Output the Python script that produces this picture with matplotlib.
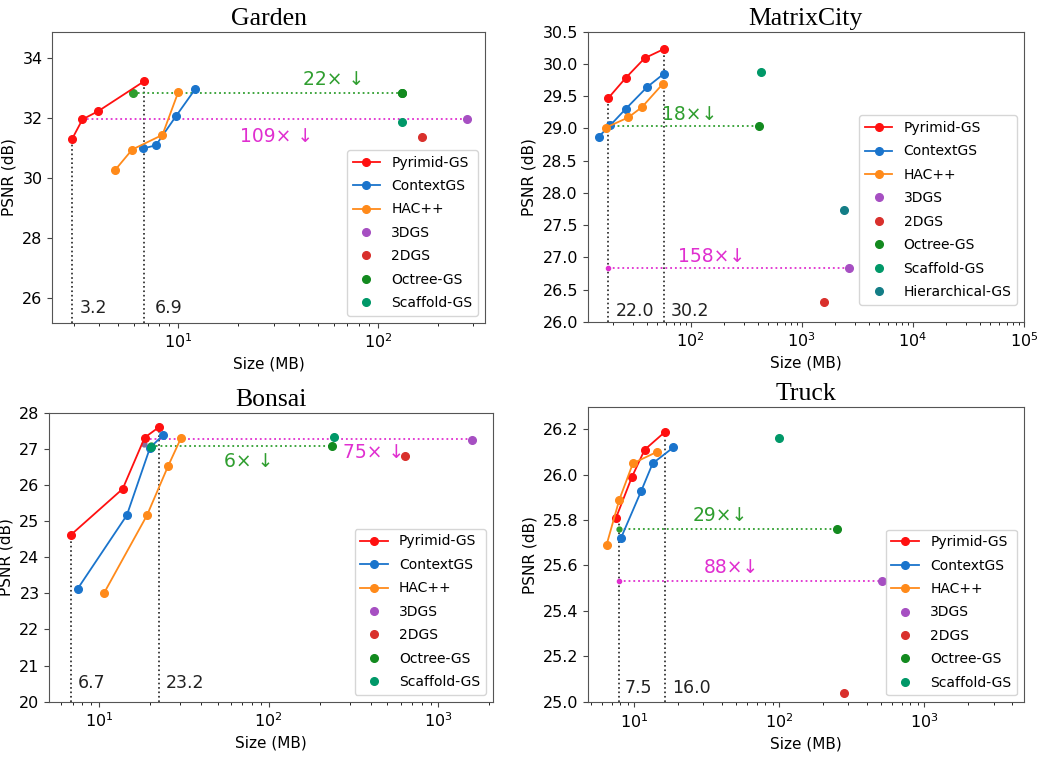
import numpy as np
import matplotlib.pyplot as plt

# colours per method
c_pyr = "#ff1010"
c_ctx = "#1a74cc"
c_hac = "#ff8a1a"
c_3dgs = "#a64fc2"
c_2dgs = "#d9302c"
c_oct = "#138a1f"
c_sca = "#009868"
c_hier = "#137d86"
c_green = "#2f9e2f"
c_mag = "#e02fd0"

# ---- Garden ----
garden_pyr_x = [2.92, 3.30, 3.95, 6.75]
garden_pyr_y = [31.29, 31.96, 32.23, 33.24]
garden_ctx_x = [6.67, 7.70, 9.70, 12.1]
garden_ctx_y = [30.99, 31.09, 32.06, 32.96]
garden_hac_x = [4.83, 5.86, 8.31, 9.96]
garden_hac_y = [30.28, 30.95, 31.44, 32.86]
garden_3dgs = (281.6, 31.96)
garden_2dgs = (166.0, 31.36)
garden_oct = (131.5, 32.84)
garden_sca = (131.5, 31.88)

# ---- MatrixCity ----
city_pyr_x = [18.1, 25.9, 38.5, 57.2]
city_pyr_y = [29.47, 29.78, 30.09, 30.23]
city_ctx_x = [14.8, 18.9, 25.9, 40.4, 57.5]
city_ctx_y = [28.87, 29.05, 29.30, 29.64, 29.85]
city_hac_x = [17.1, 27.4, 36.4, 56.0]
city_hac_y = [29.01, 29.17, 29.33, 29.69]
city_3dgs = (2650, 26.84)
city_2dgs = (1600, 26.30)
city_oct = (416, 29.04)
city_sca = (425, 29.87)
city_hier = (2420, 27.73)

# ---- Bonsai ----
bonsai_pyr_x = [6.81, 13.8, 18.6, 22.6]
bonsai_pyr_y = [24.61, 25.89, 27.31, 27.60]
bonsai_ctx_x = [7.48, 14.6, 20.0, 23.9]
bonsai_ctx_y = [23.12, 25.16, 27.03, 27.38]
bonsai_hac_x = [10.7, 19.2, 25.5, 30.4]
bonsai_hac_y = [23.00, 25.16, 26.51, 27.29]
bonsai_3dgs = (1578, 27.24)
bonsai_2dgs = (637, 26.79)
bonsai_oct = (237, 27.08)
bonsai_sca = (241.5, 27.33)

# ---- Truck ----
truck_pyr_x = [7.49, 9.64, 11.8, 16.4]
truck_pyr_y = [25.81, 25.99, 26.11, 26.19]
truck_ctx_x = [8.09, 11.2, 13.4, 18.6]
truck_ctx_y = [25.72, 25.93, 26.05, 26.12]
truck_hac_x = [6.44, 7.89, 9.79, 14.3]
truck_hac_y = [25.69, 25.89, 26.05, 26.10]
truck_3dgs = (513, 25.53)
truck_2dgs = (279, 25.04)
truck_oct = (251, 25.76)
truck_sca = (98.9, 26.16)

fig = plt.figure(figsize=(10.49, 7.57), dpi=100)


def panel(rect, title, pyr, ctx, hac, singles, xlim, ylim, yticks):
    ax = fig.add_axes(rect)
    ax.set_xscale("log")
    ax.plot(*pyr, "-o", color=c_pyr, ms=5.5, lw=1.3, label="Pyrimid-GS", zorder=4)
    ax.plot(*ctx, "-o", color=c_ctx, ms=5.5, lw=1.3, label="ContextGS", zorder=4)
    ax.plot(*hac, "-o", color=c_hac, ms=5.5, lw=1.3, label="HAC++", zorder=4)
    for name, pt, col in singles:
        ax.plot([pt[0]], [pt[1]], "o", color=col, ms=5.5, label=name, zorder=4)
    ax.set_xlim(*xlim)
    ax.set_ylim(*ylim)
    ax.set_yticks(yticks)
    ax.set_title(title, family="Liberation Serif", fontsize=18.5, pad=5)
    ax.set_xlabel("Size (MB)", fontsize=11)
    ax.set_ylabel("PSNR (dB)", fontsize=11)
    ax.tick_params(labelsize=11.5, color="#444444")
    for s in ax.spines.values():
        s.set_color("#555555")
    return ax


def hline(ax, x0, x1, y, col, start_ms):
    ax.plot([x0, x1], [y, y], ":", color=col, lw=1.3, zorder=3)
    if start_ms:
        ax.plot([x0], [y], "o", color=col, ms=start_ms, zorder=3)


def vline(ax, x, ytop, ybot, label, tx, ty):
    ax.plot([x, x], [ybot, ytop], ":", color="#222222", lw=1.2, zorder=2)
    ax.text(tx, ty, label, fontsize=12.5, ha="left", va="center", color="#222222")


def legend(ax, **kw):
    ax.legend(loc="lower right", fontsize=10, labelspacing=0.68, **kw)


# Garden
ax = panel([0.0499, 0.5737, 0.4125, 0.3844], "Garden",
           (garden_pyr_x, garden_pyr_y), (garden_ctx_x, garden_ctx_y),
           (garden_hac_x, garden_hac_y),
           [("3DGS", garden_3dgs, c_3dgs), ("2DGS", garden_2dgs, c_2dgs),
            ("Octree-GS", garden_oct, c_oct), ("Scaffold-GS", garden_sca, c_sca)],
           (2.33, 345), (25.16, 34.89), [26, 28, 30, 32, 34])
hline(ax, 5.94, garden_oct[0], garden_oct[1], c_green, 5.5)
hline(ax, garden_pyr_x[1], garden_3dgs[0], garden_3dgs[1], c_mag, 0)
ax.plot([garden_oct[0]], [garden_oct[1]], "o", color=c_oct, ms=5.5, zorder=5)
ax.text(60, 33.3, "22× ↓", color=c_green, fontsize=13.5, ha="center", va="center")
ax.text(31, 31.4, "109× ↓", color=c_mag, fontsize=13.5, ha="center", va="center")
vline(ax, garden_pyr_x[0], garden_pyr_y[0], 25.16, "3.2", 3.18, 25.64)
vline(ax, garden_pyr_x[-1], garden_pyr_y[-1], 25.16, "6.9", 7.58, 25.64)
legend(ax)

# MatrixCity
ax = panel([0.5602, 0.575, 0.4159, 0.3831], "MatrixCity",
           (city_pyr_x, city_pyr_y), (city_ctx_x, city_ctx_y),
           (city_hac_x, city_hac_y),
           [("3DGS", city_3dgs, c_3dgs), ("2DGS", city_2dgs, c_2dgs),
            ("Octree-GS", city_oct, c_oct), ("Scaffold-GS", city_sca, c_sca),
            ("Hierarchical-GS", city_hier, c_hier)],
           (11.8, 1e5), (26.0, 30.5), np.arange(26.0, 30.51, 0.5))
ax.set_yticklabels([f"{v:.1f}" for v in np.arange(26.0, 30.51, 0.5)])
hline(ax, city_pyr_x[0], city_oct[0], city_oct[1], c_green, 0)
hline(ax, city_pyr_x[0], city_3dgs[0], city_3dgs[1], c_mag, 3)
ax.text(98.6, 29.22, "18×↓", color=c_green, fontsize=13.5, ha="center", va="center")
ax.text(153, 27.01, "158×↓", color=c_mag, fontsize=13.5, ha="center", va="center")
vline(ax, city_pyr_x[0], city_pyr_y[0], 26.0, "22.0", 21.2, 26.16)
vline(ax, city_pyr_x[-1], city_pyr_y[-1], 26.0, "30.2", 66.1, 26.16)
legend(ax, bbox_to_anchor=(1.0, 0.035))

# Bonsai
ax = panel([0.047, 0.0731, 0.4227, 0.3818], "Bonsai",
           (bonsai_pyr_x, bonsai_pyr_y), (bonsai_ctx_x, bonsai_ctx_y),
           (bonsai_hac_x, bonsai_hac_y),
           [("3DGS", bonsai_3dgs, c_3dgs), ("2DGS", bonsai_2dgs, c_2dgs),
            ("Octree-GS", bonsai_oct, c_oct), ("Scaffold-GS", bonsai_sca, c_sca)],
           (5.10, 2090), (20, 28), range(20, 29))
hline(ax, 20.2, bonsai_oct[0], bonsai_oct[1], c_green, 5)
hline(ax, 18.6, bonsai_3dgs[0], 27.26, c_mag, 0)
ax.plot([18.4], [27.12], "o", color="#8a6a9a", ms=3.5, zorder=3)
ax.plot([20.3], [27.05], "o", color=c_sca, ms=5.5, zorder=5)
ax.text(75.9, 26.66, "6× ↓", color=c_green, fontsize=13.5, ha="center", va="center")
ax.text(417, 26.9, "75× ↓", color=c_mag, fontsize=13.5, ha="center", va="center")
vline(ax, bonsai_pyr_x[0], bonsai_pyr_y[0], 20, "6.7", 7.55, 20.51)
vline(ax, bonsai_pyr_x[-1], bonsai_pyr_y[-1], 20, "23.2", 24.8, 20.51)
legend(ax)

# Truck
ax = panel([0.5608, 0.0723, 0.4153, 0.3897], "Truck",
           (truck_pyr_x, truck_pyr_y), (truck_ctx_x, truck_ctx_y),
           (truck_hac_x, truck_hac_y),
           [("3DGS", truck_3dgs, c_3dgs), ("2DGS", truck_2dgs, c_2dgs),
            ("Octree-GS", truck_oct, c_oct), ("Scaffold-GS", truck_sca, c_sca)],
           (4.82, 4860), (24.997, 26.297), np.arange(25.0, 26.21, 0.2))
ax.set_yticklabels([f"{v:.1f}" for v in np.arange(25.0, 26.21, 0.2)])
hline(ax, 7.88, truck_oct[0], truck_oct[1], c_green, 3.5)
hline(ax, 7.88, truck_3dgs[0], truck_3dgs[1], c_mag, 3)
ax.text(39, 25.82, "29×↓", color=c_green, fontsize=13.5, ha="center", va="center")
ax.text(46.9, 25.59, "88×↓", color=c_mag, fontsize=13.5, ha="center", va="center")
vline(ax, 7.88, truck_pyr_y[0], 24.997, "7.5", 8.63, 25.06)
vline(ax, truck_pyr_x[-1], truck_pyr_y[-1], 24.997, "16.0", 18.1, 25.06)
legend(ax)

fig.savefig("out.png", dpi=100)
